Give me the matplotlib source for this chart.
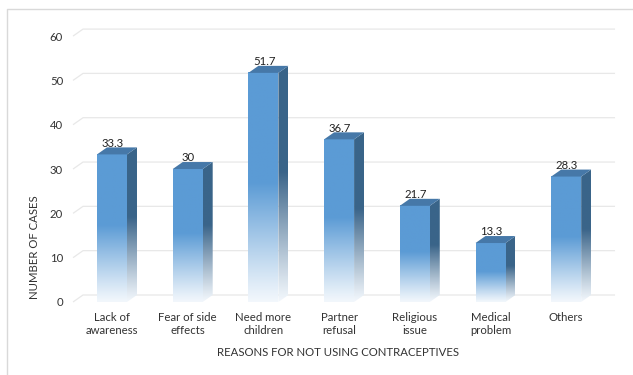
import numpy as np
import matplotlib.pyplot as plt
from matplotlib.patches import Polygon
from matplotlib.lines import Line2D
from matplotlib.colors import to_rgb

plt.rcParams["font.family"] = ["Lato", "DejaVu Sans"]

categories = ["Lack of\nawareness", "Fear of side\neffects", "Need more\nchildren",
              "Partner\nrefusal", "Religious\nissue", "Medical\nproblem", "Others"]
values = [33.3, 30, 51.7, 36.7, 21.7, 13.3, 28.3]
value_labels = ["33.3", "30", "51.7", "36.7", "21.7", "13.3", "28.3"]
yticks = [0, 10, 20, 30, 40, 50, 60]

FRONT = "#5b9bd5"
SIDE = "#3a6489"
TOP = "#4678a8"
PALE = "#f2f7fc"
GRID = "#e8e8e8"
TEXT = "#333333"
FS = 8.2

# 3D look: offsets of the back plane and half bar width (data units)
dx, dy = 0.132, 1.58
w = 0.198


def gradient(color, n=200, split=0.52):
    c1 = np.array(to_rgb(color))
    c0 = np.array(to_rgb(PALE))
    t = np.linspace(0, 1, n)[:, None]
    k = np.clip(t / split, 0, 1) ** 1.1
    rgb = c0 + (c1 - c0) * k
    return rgb[:, None, :]


fig = plt.figure(figsize=(6.33, 3.75), dpi=100)
ax = fig.add_axes([70 / 633, 70 / 375, 555 / 633, 280 / 375])
ax.set_xlim(-0.555, 6.777)
ax.set_ylim(-0.68, 62.5)

# back-wall gridlines with slanted floor ticks
x_front = -0.515
x_right = 6.645
for t in yticks:
    ax.plot([x_front, x_front + dx, x_right], [t, t + dy, t + dy],
            color=GRID, lw=0.9, zorder=1, solid_capstyle="butt")

for i, v in enumerate(values):
    # side face
    side = Polygon([(i + w, 0), (i + w + dx, dy), (i + w + dx, v + dy), (i + w, v)],
                   closed=True, facecolor="none", edgecolor="none")
    ax.add_patch(side)
    im = ax.imshow(gradient(SIDE, split=0.55), extent=[i + w, i + w + dx, 0, v + dy],
                   origin="lower", aspect="auto", interpolation="bilinear", zorder=3)
    im.set_clip_path(side)
    # front face
    ax.imshow(gradient(FRONT), extent=[i - w, i + w, 0, v],
              origin="lower", aspect="auto", interpolation="bilinear", zorder=4)
    # top face
    ax.add_patch(Polygon([(i - w, v), (i + w, v), (i + w + dx, v + dy), (i - w + dx, v + dy)],
                         closed=True, facecolor=TOP, edgecolor="none", zorder=4))
    ax.text(i + 0.01, v + dy - 0.3, value_labels[i], ha="center", va="bottom",
            fontsize=FS, color="#222222", zorder=5)

ax.set_xlim(-0.555, 6.777)
ax.set_ylim(-0.68, 62.5)
ax.set_yticks(yticks)
ax.set_xticks(range(len(categories)), categories)
ax.tick_params(axis="both", length=0, labelsize=FS, colors=TEXT)
ax.tick_params(axis="y", pad=5)
ax.tick_params(axis="x", pad=5)
for s in ax.spines.values():
    s.set_visible(False)

fig.text(338 / 633, 1 - 352 / 375, "REASONS FOR NOT USING CONTRACEPTIVES",
         ha="center", va="center", fontsize=FS, color=TEXT)
fig.text(35 / 633, 1 - 247 / 375, "NUMBER OF CASES", rotation=90,
         ha="center", va="center", fontsize=FS, color=TEXT)

# outer chart border (top and left visible)
fig.add_artist(Line2D([7 / 633, 7 / 633, 1], [0, 1 - 9 / 375, 1 - 9 / 375],
                      transform=fig.transFigure, color="#d9d9d9", lw=1))

fig.savefig("out.png", dpi=100)
